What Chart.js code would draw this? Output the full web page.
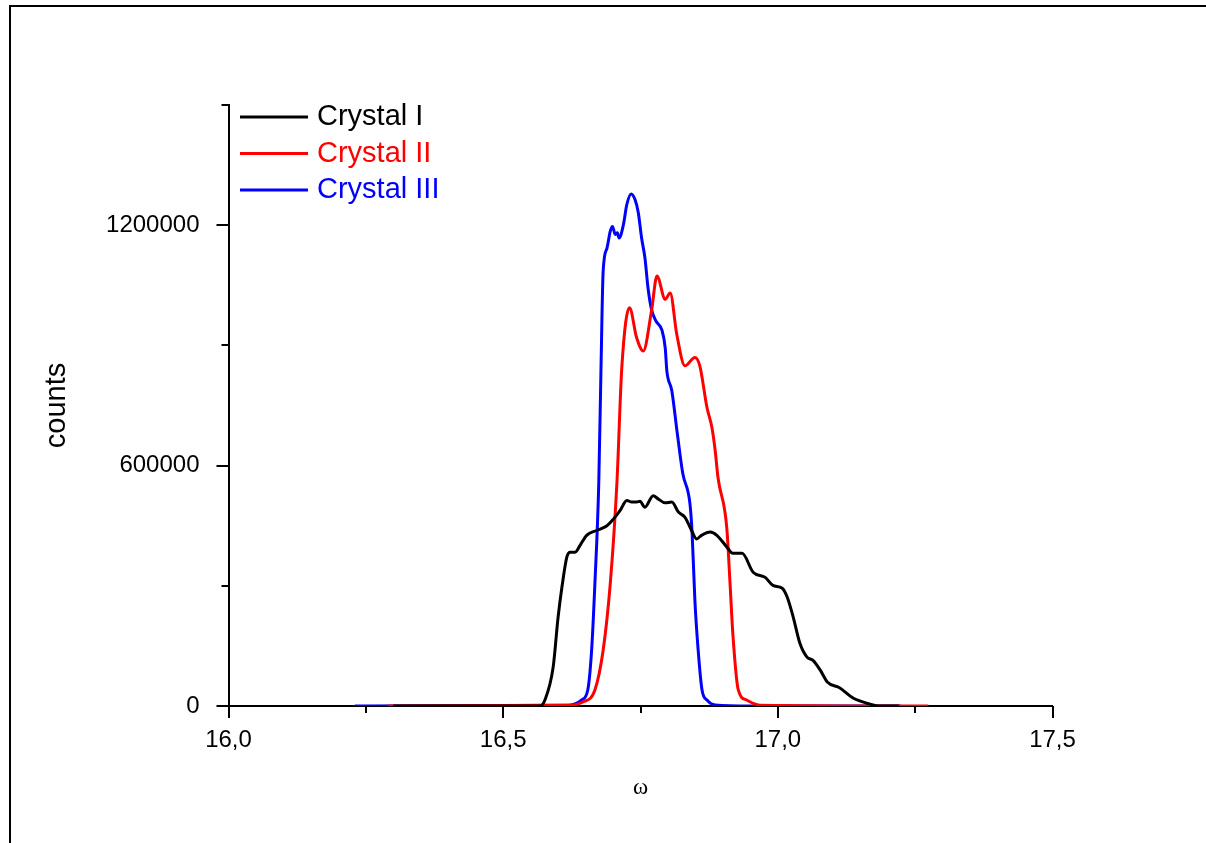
<!DOCTYPE html>
<html>
<head>
<meta charset="utf-8">
<script src="https://cdn.jsdelivr.net/npm/chart.js@4.4.1/dist/chart.umd.min.js"></script>
<style>
  html, body { margin: 0; padding: 0; background: #fff; }
  canvas { display: block; }
</style>
</head>
<body>
<canvas id="rockingChart" width="1206" height="843"></canvas>
<script>
// values (omega in degrees, detector counts)
const crystalIOmega = [16.30, 16.567, 16.576, 16.591, 16.600, 16.607, 16.616, 16.622, 16.631, 16.640,
  16.652, 16.670, 16.689, 16.701, 16.713, 16.725, 16.734, 16.743, 16.749, 16.758,
  16.773, 16.782, 16.795, 16.807, 16.819, 16.831, 16.843, 16.852, 16.861, 16.877,
  16.889, 16.907, 16.918, 16.935, 16.955, 16.977, 16.991, 17.008, 17.017, 17.028,
  17.040, 17.053, 17.064, 17.077, 17.090, 17.113, 17.137, 17.162, 17.186, 17.22];
const crystalICounts = [0, 0, 15000, 97000, 222000, 297000, 372000, 384000, 384000, 401000,
  426000, 438000, 450000, 467000, 488000, 513000, 509000, 509000, 511000, 496000,
  525000, 517000, 507000, 509000, 484000, 471000, 438000, 417000, 426000, 434000,
  426000, 397000, 381000, 381000, 334000, 321000, 301000, 294000, 272000, 222000,
  157000, 122000, 114000, 90000, 60000, 45000, 20000, 7000, 0, 0];

const crystalIIOmega = [16.29, 16.62, 16.645, 16.667, 16.682, 16.695, 16.707, 16.716, 16.730, 16.743,
  16.755, 16.770, 16.780, 16.795, 16.804, 16.816, 16.831, 16.849, 16.858, 16.871,
  16.880, 16.886, 16.891, 16.907, 16.913, 16.918, 16.928, 16.943, 16.968, 17.274];
const crystalIICounts = [0, 2000, 10000, 40000, 139000, 306000, 555000, 845000, 994000, 919000,
  886000, 986000, 1073000, 1015000, 1031000, 928000, 849000, 870000, 849000, 745000,
  695000, 637000, 571000, 446000, 306000, 182000, 40000, 15000, 2000, 0];

const crystalIIIOmega = [16.23, 16.62, 16.643, 16.654, 16.661, 16.667, 16.674, 16.678, 16.682, 16.689,
  16.695, 16.699, 16.704, 16.708, 16.711, 16.719, 16.725, 16.733, 16.740, 16.746,
  16.752, 16.758, 16.764, 16.770, 16.778, 16.789, 16.795, 16.798, 16.807, 16.817,
  16.827, 16.840, 16.844, 16.849, 16.855, 16.862, 16.871, 16.886, 16.95, 17.224];
const crystalIIICounts = [0, 2000, 15000, 40000, 139000, 306000, 555000, 836000, 1085000, 1143000,
  1185000, 1197000, 1177000, 1181000, 1168000, 1202000, 1251000, 1278000, 1264000, 1231000,
  1168000, 1119000, 1040000, 990000, 961000, 938000, 894000, 836000, 787000, 680000,
  580000, 505000, 430000, 264000, 139000, 40000, 15000, 2500, 0, 0];

const seriesNames = ['Crystal I', 'Crystal II', 'Crystal III'];
const seriesColors = ['#000000', '#ff0000', '#0000ff'];

const omegaTicks = [16.0, 16.5, 17.0, 17.5];
const omegaTickLabels = ['16,0', '16,5', '17,0', '17,5'];
const countTicks = [0, 600000, 1200000];
const countTickLabels = ['0', '600000', '1200000'];

const toPoints = (xs, ys) => xs.map((x, i) => ({ x: x, y: ys[i] }));
const pickLabel = (ticks, labels, value) => {
    const i = ticks.findIndex(t => Math.abs(t - value) < 1e-6);
    return i >= 0 ? labels[i] : '';
};

const FONT = '"Liberation Sans", Arial, sans-serif';

// white page with the black frame on top and left
const pageFrame = {
    id: 'pageFrame',
    beforeDraw(chart) {
        const ctx = chart.ctx;
        ctx.save();
        ctx.fillStyle = '#ffffff';
        ctx.fillRect(0, 0, chart.width, chart.height);
        ctx.strokeStyle = '#000';
        ctx.lineWidth = 2;
        ctx.strokeRect(10, 6, chart.width + 20, chart.height + 20);
        ctx.restore();
    }
};

// outward ticks, long for labelled ones, short for the others
const outwardTicks = {
    id: 'outwardTicks',
    afterDraw(chart) {
        const ctx = chart.ctx;
        const area = chart.chartArea;
        ctx.save();
        ctx.strokeStyle = '#000';
        ctx.lineWidth = 2;
        const xs = chart.scales.x;
        xs.ticks.forEach(t => {
            const px = Math.round(xs.getPixelForValue(t.value));
            const len = t.label !== '' ? 12 : 7;
            ctx.beginPath();
            ctx.moveTo(px, area.bottom);
            ctx.lineTo(px, area.bottom + len);
            ctx.stroke();
        });
        const ys = chart.scales.y;
        ys.ticks.forEach(t => {
            const py = Math.round(ys.getPixelForValue(t.value));
            const len = t.label !== '' ? 12 : 7;
            ctx.beginPath();
            ctx.moveTo(area.left, py);
            ctx.lineTo(area.left - len, py);
            ctx.stroke();
        });
        ctx.restore();
    }
};

// legend inside the plot, top left
const innerLegend = {
    id: 'innerLegend',
    afterDatasetsDraw(chart) {
        const ctx = chart.ctx;
        ctx.save();
        ctx.font = '29px ' + FONT;
        ctx.textBaseline = 'middle';
        ctx.textAlign = 'left';
        ctx.lineWidth = 3;
        chart.data.datasets.forEach((ds, i) => {
            const y = 117 + i * 36.5;
            ctx.strokeStyle = ds.borderColor;
            ctx.beginPath();
            ctx.moveTo(240, y);
            ctx.lineTo(308, y);
            ctx.stroke();
            ctx.fillStyle = ds.borderColor;
            ctx.fillText(ds.label, 317, y);
        });
        ctx.restore();
    }
};

const ctx = document.getElementById('rockingChart').getContext('2d');
new Chart(ctx, {
    type: 'line',
    data: {
        datasets: [
            { label: seriesNames[0], data: toPoints(crystalIOmega, crystalICounts) },
            { label: seriesNames[1], data: toPoints(crystalIIOmega, crystalIICounts) },
            { label: seriesNames[2], data: toPoints(crystalIIIOmega, crystalIIICounts) }
        ].map((ds, i) => Object.assign(ds, {
            borderColor: seriesColors[i],
            backgroundColor: seriesColors[i],
            borderWidth: 3,
            pointRadius: 0,
            fill: false,
            cubicInterpolationMode: 'monotone'
        }))
    },
    options: {
        responsive: false,
        animation: false,
        devicePixelRatio: 1,
        layout: { padding: { left: 10, top: 105, right: 153.5, bottom: 10 } },
        plugins: {
            legend: { display: false },
            tooltip: { enabled: false }
        },
        scales: {
            x: {
                type: 'linear',
                min: 16,
                max: 17.5,
                afterFit: (scale) => { scale.height = 127; },
                border: { display: true, color: '#000', width: 2 },
                grid: { display: false },
                ticks: {
                    stepSize: 0.25,
                    padding: 12,
                    color: '#000',
                    font: { family: FONT, size: 24 },
                    maxRotation: 0,
                    autoSkip: false,
                    callback: (value) => pickLabel(omegaTicks, omegaTickLabels, value)
                },
                title: {
                    display: true,
                    text: 'ω',
                    color: '#000',
                    font: { family: '"Liberation Serif", "DejaVu Serif", serif', size: 23 },
                    padding: { top: 0, bottom: 31 }
                }
            },
            y: {
                min: 0,
                max: 1500000,
                afterFit: (scale) => { scale.width = 218.5; },
                border: { display: true, color: '#000', width: 2 },
                grid: { display: false },
                ticks: {
                    stepSize: 300000,
                    padding: 21,
                    color: '#000',
                    font: { family: FONT, size: 24 },
                    callback: (value) => pickLabel(countTicks, countTickLabels, value)
                },
                title: {
                    display: true,
                    text: 'counts',
                    color: '#000',
                    font: { family: FONT, size: 29 },
                    padding: { top: 30, bottom: 0 }
                }
            }
        }
    },
    plugins: [pageFrame, outwardTicks, innerLegend]
});
</script>
</body>
</html>
